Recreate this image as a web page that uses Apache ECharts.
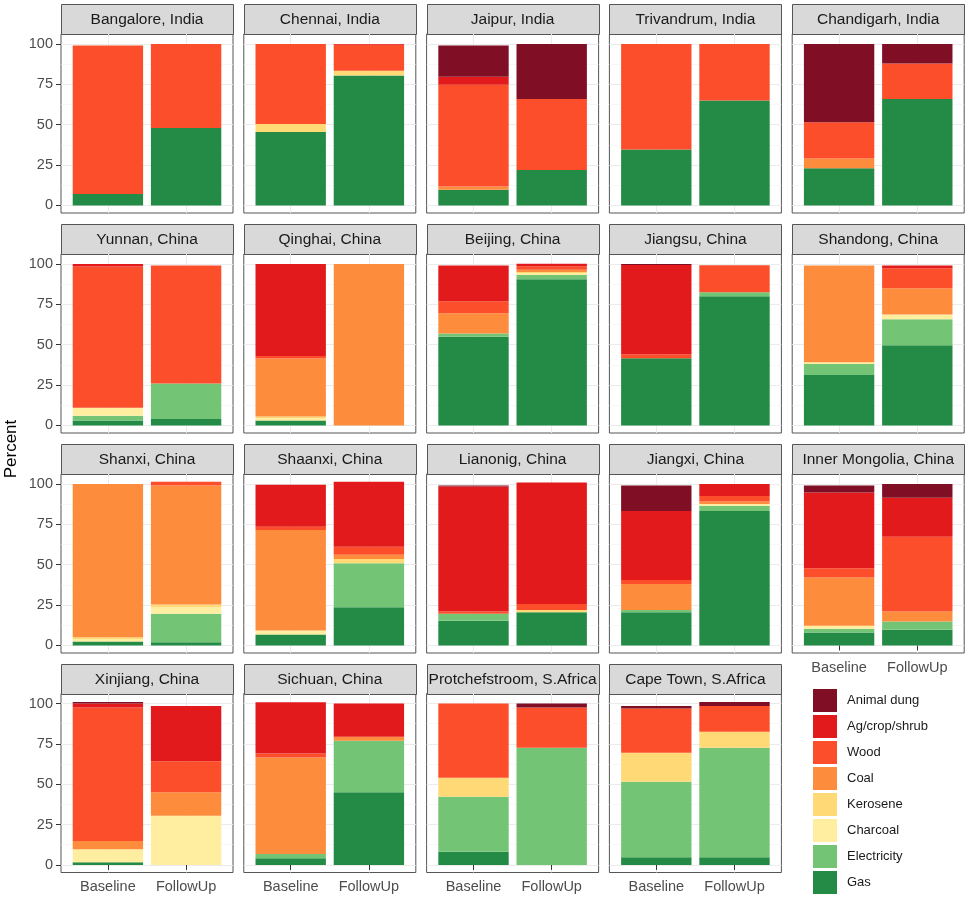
<!DOCTYPE html>
<html>
<head>
<meta charset="utf-8">
<script src="https://cdn.jsdelivr.net/npm/echarts@6/dist/echarts.min.js"></script>
<style>html,body{margin:0;padding:0;background:#fff}#chart{width:967px;height:897px}</style>
</head>
<body>
<div id="chart"></div>
<script>
// ---------- DATA ----------
const cities = [
  'Bangalore, India','Chennai, India','Jaipur, India','Trivandrum, India','Chandigarh, India',
  'Yunnan, China','Qinghai, China','Beijing, China','Jiangsu, China','Shandong, China',
  'Shanxi, China','Shaanxi, China','Lianonig, China','Jiangxi, China','Inner Mongolia, China',
  'Xinjiang, China','Sichuan, China','Protchefstroom, S.Africa','Cape Town, S.Africa'
];
const periods = ['Baseline', 'FollowUp'];
const yTickValues = [0, 25, 50, 75, 100];
const yMinorValues = [12.5, 37.5, 62.5, 87.5];
// values per city: [Baseline, FollowUp] (percent)
const gas = [[7,48],[45.5,80.5],[9.7,22],[34.6,65],[23,66],
  [3,4],[3,0],[55,90.5],[41.6,80],[31.3,49.7],
  [2.5,2],[6.8,23.7],[15.3,20.6],[20.6,83.3],[8,9.7],
  [1.6,0],[4.1,45],[8.2,0],[4.7,4.7]];
const electricity = [[0,0],[0,0],[0,0],[0,0],[0,0],
  [3,22],[0,0],[2,2.7],[0,2.5],[6.8,16],
  [0,17.6],[0,27.2],[4.3,0],[1.4,3.3],[2.3,5.1],
  [0,0],[2.7,31.9],[34.1,72.6],[46.8,67.9]];
const charcoal = [[0,0],[0,0],[0,0],[0,0],[0,0],
  [5,0],[1.5,0],[0,1.2],[0,0],[1,3],
  [1.5,4],[2.5,0],[0,0],[0,1],[1.9,0],
  [8.1,30.5],[0,0],[0,0],[0,0]];
const kerosene = [[0,0],[5,3],[0,0],[0,0],[0,0],
  [0,0],[1,0],[0,0.6],[0,0],[0,0],
  [1,1.8],[0,2.7],[0,1.4],[0,0],[0,0],
  [0,0],[0,0],[11.7,0],[18,9.9]];
const coal = [[0,0],[0,0],[2,0],[0,0],[6,0],
  [0,0],[36,100],[12.5,1.5],[0,0],[60,16.3],
  [95,73.6],[62.2,2.5],[0,0],[16.1,1.5],[29.9,6.2],
  [5.1,14.5],[59.8,2.5],[0,0],[0,0]];
const wood = [[92,52],[49.5,16],[63,44],[65.4,35],[22.5,22],
  [87.5,73],[1.5,0],[7.5,2.1],[2.5,16.7],[0,12.3],
  [0,2.4],[2,5.1],[1.4,3.6],[2.5,3.5],[5.7,46.4],
  [82.7,19.3],[2.5,0],[46,24.9],[27.4,15.9]];
const agCropShrub = [[0,0],[0,0.5],[5,0],[0,0],[0,0],
  [1.5,0],[57,0],[22,1.6],[55.3,0],[0,1.7],
  [0,0],[26,40.2],[77.4,75.4],[42.7,7.4],[47,24.1],
  [2.5,34.1],[31.7,20.6],[0,0],[0,0]];
const animalDung = [[0,0],[0,0],[19.3,34],[0,0],[48.5,12],
  [0,0],[0,0],[0,0],[0.6,0],[0,0],
  [0,0],[0,0],[0.6,0],[15.7,0],[4.2,8.5],
  [1,0],[0,0],[0,2.5],[1.5,2.6]];

// stacking order bottom -> top
const fuelNames = ['Gas','Electricity','Charcoal','Kerosene','Coal','Wood','Ag/crop/shrub','Animal dung'];
const fuelData = [gas, electricity, charcoal, kerosene, coal, wood, agCropShrub, animalDung];
const fuelColors = ['#238b45','#74c476','#ffeda0','#fed976','#fd8d3c','#fc4e2a','#e31a1c','#800f26'];

// ---------- LAYOUT ----------
const FONT = '"Liberation Sans", Arial, Helvetica, sans-serif';
const colLeft = [61, 243.8, 426.6, 609.4, 792.2];
const panelW = 172;
const stripTop = [4, 224, 444, 663.5];
const stripH = 30;
const panelH = 179;
const inset = 7.8;
const yMin = -4.7, yMax = 106.2;

const grids = [], xAxes = [], yAxes = [], series = [], graphics = [];
const n = cities.length;

cities.forEach((city, i) => {
  const col = i % 5, row = Math.floor(i / 5);
  const left = colLeft[col];
  const top = stripTop[row] + stripH;
  const isLeft = col === 0;
  const isBottom = i + 5 >= n;

  grids.push({left: left, top: top, width: panelW, height: panelH, show: true,
    backgroundColor: '#fff', borderColor: '#555', borderWidth: 1, containLabel: false});
  grids.push({left: left + inset, top: top, width: panelW - 2 * inset, height: panelH, show: false, containLabel: false});

  const og = 2 * i, ig = 2 * i + 1;
  xAxes.push({gridIndex: og, type: 'value', min: 0.4, max: 2.6,
    axisLine: {show: false}, axisTick: {show: false, customValues: [1, 2]},
    axisLabel: {show: false, customValues: [1, 2]},
    splitLine: {show: true, lineStyle: {color: '#ebebeb', width: 1}}});
  xAxes.push({gridIndex: ig, type: 'category', data: periods,
    axisLine: {show: false},
    axisTick: {show: isBottom, alignWithLabel: true, interval: 0, length: 5, lineStyle: {color: '#333'}},
    axisLabel: {show: isBottom, interval: 0, color: '#4d4d4d', fontSize: 14.5, fontFamily: FONT, margin: 7},
    splitLine: {show: false}});

  yAxes.push({gridIndex: og, type: 'value', min: yMin, max: yMax, position: 'left',
    axisLine: {show: false},
    axisTick: {show: isLeft, length: 5, lineStyle: {color: '#333'}, customValues: yTickValues},
    axisLabel: {show: isLeft, color: '#4d4d4d', fontSize: 14.5, fontFamily: FONT, margin: 8, customValues: yTickValues},
    splitLine: {show: true, lineStyle: {color: '#ebebeb', width: 1}}});
  yAxes.push({gridIndex: og, type: 'value', min: yMin, max: yMax, position: 'right',
    axisLine: {show: false},
    axisTick: {show: false, customValues: yMinorValues},
    axisLabel: {show: false, customValues: yMinorValues},
    splitLine: {show: true, lineStyle: {color: '#f3f3f3', width: 0.6}}});
  yAxes.push({gridIndex: ig, type: 'value', min: yMin, max: yMax, show: false});

  fuelNames.forEach((name, f) => {
    series.push({
      type: 'bar', name: name, stack: 'c' + i,
      xAxisIndex: ig, yAxisIndex: 3 * i + 2,
      barWidth: '90%', data: fuelData[f][i],
      itemStyle: {color: fuelColors[f]},
      emphasis: {disabled: true}, silent: true, animation: false
    });
  });

  graphics.push({type: 'rect', silent: true,
    shape: {x: Math.round(left) + 0.5, y: Math.round(stripTop[row]) + 0.5, width: panelW, height: stripH},
    style: {fill: '#d9d9d9', stroke: '#555', lineWidth: 1}});
  graphics.push({type: 'text', silent: true,
    x: left + panelW / 2, y: stripTop[row] + stripH / 2 + 1,
    style: {text: city, fill: '#1a1a1a', font: '15.5px ' + FONT, align: 'center', verticalAlign: 'middle'}});
});

graphics.push({type: 'text', silent: true, x: 11, y: 449, rotation: Math.PI / 2,
  style: {text: 'Percent', fill: '#000', font: '17px ' + FONT, align: 'center', verticalAlign: 'middle'}});

const option = {
  animation: false,
  textStyle: {fontFamily: FONT},
  grid: grids, xAxis: xAxes, yAxis: yAxes, series: series,
  legend: {
    data: fuelNames.slice().reverse(), orient: 'vertical', left: 813, top: 689, padding: 0,
    itemWidth: 24, itemHeight: 23, itemGap: 3, icon: 'rect', selectedMode: false,
    textStyle: {fontSize: 13, color: '#1a1a1a', fontFamily: FONT, padding: [0, 0, 0, 5]}
  },
  graphic: graphics
};
const chart = echarts.init(document.getElementById('chart'), null, {renderer: 'canvas'});
chart.setOption(option);
</script>
</body>
</html>
